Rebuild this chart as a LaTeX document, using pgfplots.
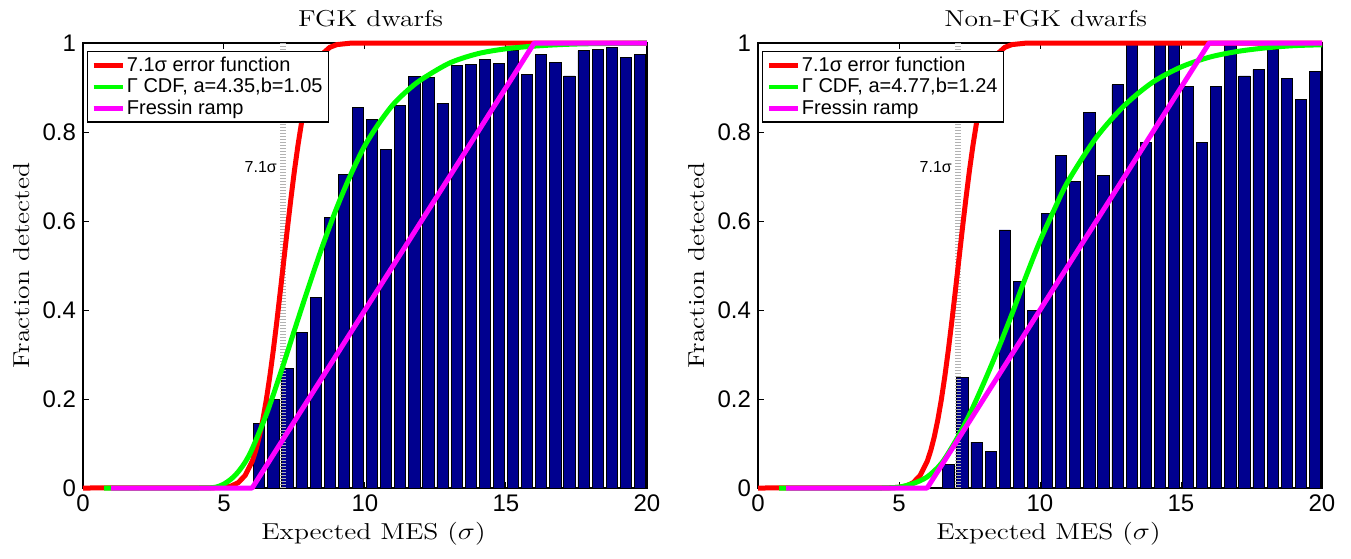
\documentclass[border=0pt]{standalone}
\usepackage{fontspec}
\usepackage{graphicx}
\usepackage{pgfplots}
\pgfplotsset{compat=1.18}
\newfontfamily\sfont{Liberation Sans}
\definecolor{barblue}{RGB}{0,0,143}
\definecolor{myred}{RGB}{255,0,0}
\definecolor{mygreen}{RGB}{0,255,0}
\definecolor{mymag}{RGB}{255,0,255}
\newcommand{\lbl}[1]{\scalebox{1.2}[1]{\fontsize{11.5}{13}\selectfont #1}}

\pgfplotsset{
 every axis title shift=0pt,
 mcfg/.style={
  width=282pt, height=222.5pt, scale only axis,
  xmin=0, xmax=20, ymin=0, ymax=1,
  xtick={0,5,10,15,20}, ytick={0,0.2,0.4,0.6,0.8,1},
  tick align=inside, major tick length=2.8pt,
  axis line style={black, line width=0.6pt},
  every tick/.style={black, line width=0.5pt},
  clip=false,
  /pgf/number format/assume math mode=true,
  ticklabel style={font=\sfont\fontsize{12}{14}\selectfont},
  xlabel={\lbl{Expected MES ($\sigma$)}},
  ylabel={\lbl{Fraction detected}},
  xlabel style={at={(axis description cs:0.515,-0.1155)}, anchor=base},
  ylabel style={at={(axis description cs:-0.094,0.5)}, anchor=base},
  title style={at={(axis description cs:0.51,1.036)}, anchor=base},
  legend style={at={(axis description cs:0.007,0.982)}, anchor=north west,
    draw=black, line width=0.6pt, fill=white,
    font=\sfont\fontsize{10}{12}\selectfont,
    inner xsep=2pt, inner ysep=1.5pt, row sep=0pt,
    nodes={inner sep=1pt}},
  legend cell align=left,
  legend image code/.code={\draw[#1, line width=2.2pt] (0pt,0pt) -- (14.5pt,0pt);},
 },
 barsty/.style={ybar, bar width=0.4, fill=barblue, draw=black, line width=0.4pt, forget plot},
 dotsty/.style={color=gray!60, line width=3pt, dash pattern=on 0.5pt off 1pt, forget plot},
 redsty/.style={color=myred, line width=2.5pt, line join=round},
 greensty/.style={color=mygreen, line width=2.5pt, line join=round},
 magsty/.style={color=mymag, line width=2.5pt, line join=round},
}

\begin{document}
\begin{tikzpicture}
% ---------------- Left: FGK dwarfs ----------------
\begin{axis}[mcfg, title={\lbl{FGK dwarfs}}, at={(0pt,0pt)}, anchor=south west]
\addplot[barsty] coordinates {
(6.25,0.146) (6.75,0.199) (7.25,0.268) (7.75,0.350) (8.25,0.428) (8.75,0.608)
(9.25,0.704) (9.75,0.855) (10.25,0.829) (10.75,0.761) (11.25,0.859) (11.75,0.925)
(12.25,0.922) (12.75,0.865) (13.25,0.950) (13.75,0.951) (14.25,0.963) (14.75,0.954)
(15.25,0.983) (15.75,0.929) (16.25,0.974) (16.75,0.956) (17.25,0.926) (17.75,0.983)
(18.25,0.985) (18.75,0.990) (19.25,0.968) (19.75,0.974)};
\addplot[dotsty] coordinates {(7.1,0) (7.1,1)};
\node[font=\sfont\fontsize{8}{9.6}\selectfont, anchor=east, inner sep=0pt, xshift=-3pt] at (axis cs:7.1,0.722) {7.1σ};
\addplot[redsty] coordinates {
(0,0) (4.5,0.0001) (5,0.0015) (5.25,0.0044) (5.5,0.0118) (5.75,0.0281) (6,0.0599)
(6.125,0.084) (6.25,0.1147) (6.375,0.1527) (6.5,0.198) (6.625,0.2508) (6.75,0.3103)
(6.875,0.3752) (7,0.4438) (7.125,0.514) (7.25,0.584) (7.375,0.6514) (7.5,0.7143)
(7.625,0.771) (7.75,0.821) (7.875,0.8635) (8,0.8985) (8.125,0.9265) (8.25,0.948)
(8.375,0.9643) (8.5,0.9761) (8.75,0.9902) (9,0.9964) (9.5,0.9997) (10,1) (20,1)};
\addlegendentry{7.1σ error function}
\addplot[greensty, smooth] coordinates {
(0.75,0) (2,0) (3,0) (4.1,0) (4.5,0.0004) (4.75,0.0025) (5,0.009) (5.25,0.02)
(5.5,0.036) (5.75,0.058) (6,0.088) (6.5,0.165) (7,0.257) (7.5,0.355) (8,0.452)
(8.5,0.545) (9,0.63) (9.5,0.705) (10,0.77) (10.5,0.82) (11,0.862) (11.5,0.893)
(12,0.918) (13,0.955) (14,0.976) (15,0.987) (16,0.993) (17,0.9966) (18,0.9984) (20,0.9996)};
\addlegendentry{Γ CDF, a=4.35,b=1.05}
\addplot[magsty] coordinates {(1,0) (6,0) (16,1) (20,1)};
\addlegendentry{Fressin ramp}
\end{axis}
% ---------------- Right: Non-FGK dwarfs ----------------
\begin{axis}[mcfg, title={\lbl{Non-FGK dwarfs}}, at={(337.5pt,0pt)}, anchor=south west]
\addplot[barsty] coordinates {
(6.75,0.053) (7.25,0.248) (7.75,0.103) (8.25,0.082) (8.75,0.580) (9.25,0.464)
(9.75,0.398) (10.25,0.617) (10.75,0.747) (11.25,0.689) (11.75,0.843) (12.25,0.703)
(12.75,0.906) (13.25,1.0) (13.75,0.776) (14.25,1.0) (14.75,1.0) (15.25,0.902)
(15.75,0.776) (16.25,0.902) (16.75,1.0) (17.25,0.926) (17.75,0.940) (18.25,0.985)
(18.75,0.921) (19.25,0.874) (19.75,0.936)};
\addplot[dotsty] coordinates {(7.1,0) (7.1,1)};
\node[font=\sfont\fontsize{8}{9.6}\selectfont, anchor=east, inner sep=0pt, xshift=-3pt] at (axis cs:7.1,0.722) {7.1σ};
\addplot[redsty] coordinates {
(0,0) (4.5,0.0001) (5,0.0015) (5.25,0.0044) (5.5,0.0118) (5.75,0.0281) (6,0.0599)
(6.125,0.084) (6.25,0.1147) (6.375,0.1527) (6.5,0.198) (6.625,0.2508) (6.75,0.3103)
(6.875,0.3752) (7,0.4438) (7.125,0.514) (7.25,0.584) (7.375,0.6514) (7.5,0.7143)
(7.625,0.771) (7.75,0.821) (7.875,0.8635) (8,0.8985) (8.125,0.9265) (8.25,0.948)
(8.375,0.9643) (8.5,0.9761) (8.75,0.9902) (9,0.9964) (9.5,0.9997) (10,1) (20,1)};
\addlegendentry{7.1σ error function}
\addplot[greensty, smooth] coordinates {
(0.75,0) (2,0) (3,0) (4.1,0) (4.5,0.0001) (5,0.002) (5.5,0.01) (6,0.025)
(6.5,0.055) (7,0.105) (7.5,0.165) (8,0.235) (8.5,0.31) (9,0.39) (9.5,0.475)
(10,0.555) (10.5,0.625) (11,0.69) (12,0.788) (13,0.86) (14,0.912) (15,0.946)
(16,0.968) (17,0.981) (18,0.989) (19,0.994) (20,0.996)};
\addlegendentry{Γ CDF, a=4.77,b=1.24}
\addplot[magsty] coordinates {(1,0) (6,0) (16,1) (20,1)};
\addlegendentry{Fressin ramp}
\end{axis}
\pgfresetboundingbox
\path[use as bounding box] (-41.5pt,-35pt) rectangle (634pt,244pt);
\end{tikzpicture}
\end{document}
